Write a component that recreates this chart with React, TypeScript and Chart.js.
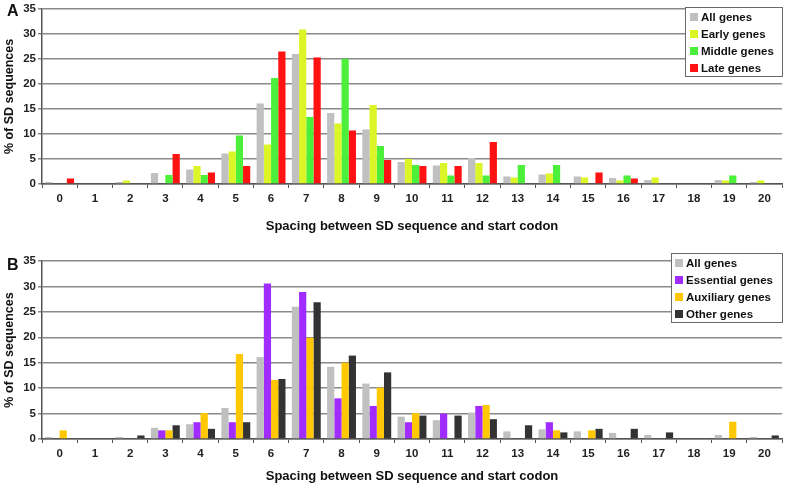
import React, { useEffect, useRef } from "react";
import Chart from "chart.js/auto";

// spacing between SD sequence and start codon (nt)
const spacing = ["0", "1", "2", "3", "4", "5", "6", "7", "8", "9", "10", "11", "12", "13", "14", "15", "16", "17", "18", "19", "20"];
const yTicks = [0, 5, 10, 15, 20, 25, 30, 35];

// % of SD sequences
const allGenes = [0.4, 0, 0.4, 2.2, 2.9, 6.1, 16.1, 26.0, 14.2, 10.9, 4.4, 3.7, 5.2, 1.5, 1.9, 1.5, 1.2, 0.8, 0, 0.8, 0.4];
const earlyGenes = [0, 0, 0.7, 0, 3.6, 6.5, 7.9, 30.9, 12.1, 15.8, 5.0, 4.2, 4.2, 1.3, 2.1, 1.3, 0.7, 1.3, 0, 0.7, 0.7];
const middleGenes = [0, 0, 0, 1.8, 1.8, 9.7, 21.2, 13.4, 25.0, 7.6, 3.8, 1.7, 1.7, 3.8, 3.8, 0, 1.7, 0, 0, 1.7, 0];
const lateGenes = [1.1, 0, 0, 6.0, 2.3, 3.6, 26.5, 25.3, 10.7, 4.8, 3.6, 3.6, 8.4, 0, 0, 2.3, 1.1, 0, 0, 0, 0];

const essentialGenes = [0, 0, 0, 1.7, 3.3, 3.3, 30.6, 28.9, 8.0, 6.5, 3.3, 5.0, 6.5, 0, 3.3, 0, 0, 0, 0, 0, 0];
const auxiliaryGenes = [1.7, 0, 0, 1.7, 5.1, 16.7, 11.6, 19.9, 15.0, 10.1, 5.1, 0, 6.7, 0, 1.7, 1.7, 0, 0, 0, 3.4, 0];
const otherGenes = [0, 0, 0.7, 2.7, 2.0, 3.3, 11.8, 26.9, 16.4, 13.1, 4.6, 4.6, 3.9, 2.7, 1.3, 2.0, 2.0, 1.3, 0, 0, 0.7];

const FONT = "'Liberation Sans', Arial, sans-serif";

interface Series {
  label: string;
  data: number[];
  color: string;
}

interface PanelProps {
  series: Series[];
  height: number;
  top: number; // chart area top inside canvas
  xHeight: number; // height of x axis box
  titlePad: number;
  legendBox: { x: number; y: number; w: number; h: number; textX: number; rowY: number; rowH: number };
}

// draws the boxed legend inside the plot, like the original figure
const boxLegend = (lb: PanelProps["legendBox"]) => ({
  id: "boxLegend",
  afterDraw(chart: Chart) {
    const ctx = chart.ctx;
    ctx.save();
    ctx.fillStyle = "#ffffff";
    ctx.fillRect(lb.x, lb.y, lb.w, lb.h);
    ctx.strokeStyle = "#6a6a6a";
    ctx.lineWidth = 1;
    ctx.strokeRect(lb.x + 0.5, lb.y + 0.5, lb.w - 1, lb.h - 1);
    ctx.font = `bold 11.5px ${FONT}`;
    ctx.textBaseline = "middle";
    chart.data.datasets.forEach((ds, i) => {
      const cy = lb.rowY + i * lb.rowH;
      ctx.fillStyle = ds.backgroundColor as string;
      ctx.fillRect(lb.textX - 11, cy - 4, 8, 8);
      ctx.fillStyle = "#111111";
      ctx.fillText(ds.label as string, lb.textX, cy + 0.5);
    });
    ctx.restore();
  },
});

const Panel: React.FC<PanelProps> = ({ series, height, top, xHeight, titlePad, legendBox }) => {
  const canvasRef = useRef<HTMLCanvasElement>(null!);

  useEffect(() => {
    const canvas = canvasRef.current;
    Chart.getChart(canvas)?.destroy();

    const chart = new Chart(canvas, {
      type: "bar",
      data: {
        labels: spacing,
        datasets: series.map((s) => ({
          label: s.label,
          data: s.data,
          backgroundColor: s.color,
          borderWidth: 0,
          categoryPercentage: 0.82,
          barPercentage: 1.0,
        })),
      },
      options: {
        responsive: false,
        animation: false,
        layout: { padding: { left: 0, right: 3, top: top, bottom: 0 } },
        plugins: {
          legend: { display: false },
          tooltip: { enabled: false },
        },
        scales: {
          x: {
            grid: { drawOnChartArea: false, drawTicks: true, tickLength: 4, color: "#555555", lineWidth: 1 },
            border: { display: true, color: "#555555", width: 1.5 },
            ticks: { color: "#222222", font: { family: FONT, size: 11.5, weight: "bold" }, padding: 4, maxRotation: 0 },
            title: {
              display: true,
              text: "Spacing between SD sequence and start codon",
              color: "#111111",
              font: { family: FONT, size: 13, weight: "bold" },
              padding: { top: 0, bottom: titlePad },
            },
            afterFit: (s: any) => {
              s.height = xHeight;
            },
          },
          y: {
            min: 0,
            max: 35,
            afterBuildTicks: (s: any) => {
              s.ticks = yTicks.map((v) => ({ value: v }));
            },
            grid: { color: "#8a8a8a", lineWidth: 1.5, tickLength: 4, drawTicks: true },
            border: { display: true, color: "#555555", width: 1.5 },
            ticks: { color: "#222222", font: { family: FONT, size: 11.5, weight: "bold" }, padding: 2 },
            title: {
              display: true,
              text: "% of SD sequences",
              color: "#111111",
              font: { family: FONT, size: 12.5, weight: "bold" },
              padding: { top: 2, bottom: 0 },
            },
            afterFit: (s: any) => {
              s.width = 42;
            },
          },
        },
      },
      plugins: [boxLegend(legendBox)],
    });

    return () => {
      chart.destroy();
    };
  }, [series, height, top, xHeight, titlePad, legendBox]);

  return <canvas ref={canvasRef} width={785} height={height} style={{ display: "block" }} />;
};

const seriesA: Series[] = [
  { label: "All genes", data: allGenes, color: "#c0c0c0" },
  { label: "Early genes", data: earlyGenes, color: "#dcf526" },
  { label: "Middle genes", data: middleGenes, color: "#4cf03a" },
  { label: "Late genes", data: lateGenes, color: "#ff1212" },
];

const seriesB: Series[] = [
  { label: "All genes", data: allGenes, color: "#c0c0c0" },
  { label: "Essential genes", data: essentialGenes, color: "#a02cff" },
  { label: "Auxiliary genes", data: auxiliaryGenes, color: "#ffc800" },
  { label: "Other genes", data: otherGenes, color: "#333333" },
];

const legendA = { x: 685, y: 7, w: 98, h: 70, textX: 701, rowY: 17, rowH: 17 };
const legendB = { x: 671, y: 13, w: 112, h: 70, textX: 686, rowY: 23, rowH: 17 };

const letterStyle: React.CSSProperties = {
  position: "absolute",
  left: 7,
  font: `bold 16px ${FONT}`,
  color: "#111111",
  lineHeight: "18px",
};

export default function App() {
  return (
    <div style={{ position: "absolute", left: 0, top: 0, width: 785, height: 485, background: "#ffffff" }}>
      <div style={{ position: "absolute", left: 0, top: 0 }}>
        <Panel series={seriesA} height={240} top={7} xHeight={56} titlePad={6} legendBox={legendA} />
      </div>
      <div style={{ position: "absolute", left: 0, top: 240 }}>
        <Panel series={seriesB} height={245} top={21} xHeight={46} titlePad={1} legendBox={legendB} />
      </div>
      <div style={{ ...letterStyle, top: 2 }}>A</div>
      <div style={{ ...letterStyle, top: 256 }}>B</div>
    </div>
  );
}
